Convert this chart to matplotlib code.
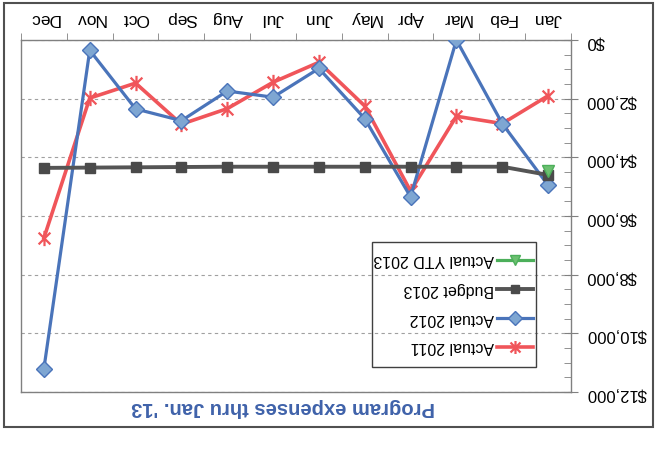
import numpy as np
import matplotlib
matplotlib.use('Agg')
import matplotlib.pyplot as plt
from matplotlib.path import Path
from matplotlib.patches import Rectangle
from matplotlib.lines import Line2D
from matplotlib.ticker import MultipleLocator, FuncFormatter

plt.rcParams['font.family'] = ['Liberation Sans', 'DejaVu Sans']

W, H = 662, 455

months = ['Jan', 'Feb', 'Mar', 'Apr', 'May', 'Jun',
          'Jul', 'Aug', 'Sep', 'Oct', 'Nov', 'Dec']
actual_2011 = [1900, 2850, 2600, 5150, 2250, 760, 1440, 2340, 2870, 1470, 1980, 6750]
actual_2012 = [4950, 2850, 0, 5350, 2680, 970, 1950, 1740, 2750, 2350, 350, 11200]
budget_2013 = [4600, 4320, 4320, 4320, 4320, 4320, 4320, 4320, 4330, 4340, 4350, 4360]
actual_ytd_2013 = [4450] + [np.nan] * 11

series_names = ['Actual 2011', 'Actual 2012', 'Budget 2013', 'Actual YTD 2013']

def px(x, y):
    # pixel position -> figure fraction
    return x / W, 1 - y / H

# asterisk marker: an x with a vertical bar
star = Path([(-1, -1), (1, 1), (-1, 1), (1, -1), (0, -1.3), (0, 1.3)],
            [Path.MOVETO, Path.LINETO, Path.MOVETO, Path.LINETO, Path.MOVETO, Path.LINETO])

styles = [
    dict(color='#F0555A', lw=2.6, marker=star, ms=11, mew=1.6, mec='#F0555A'),
    dict(color='#4A74BA', lw=2.3, marker='D', ms=8, mfc='#7EA6D2', mec='#4A74BA', mew=1),
    dict(color='#555555', lw=2.8, marker='s', ms=7.5, mfc='#4A4A4A', mec='#4A4A4A'),
    dict(color='#4CAF5A', lw=2.3, marker='v', ms=9, mfc='#6CC070', mec='#4CAF5A'),
]

fig = plt.figure(figsize=(W / 100, H / 100), dpi=100)
x0, y0 = px(21, 392)
x1, y1 = px(571, 40)
ax = fig.add_axes([x0, y0, x1 - x0, y1 - y0])

xs = np.arange(len(months))
for vals, st in zip([actual_2011, actual_2012, budget_2013, actual_ytd_2013], styles):
    ax.plot(xs, vals, **st, zorder=3)

# axes are drawn upside down: Jan on the right, $0 at the top
ax.set_xlim(11.5, -0.5)
ax.set_ylim(12000, 0)

ax.xaxis.tick_top()
ax.set_xticks(xs)
ax.set_xticklabels(months, rotation=180, fontsize=12.5)
ax.set_xticks(np.arange(-0.5, 12, 1), minor=True)
ax.tick_params(axis='x', which='major', length=0, pad=10)
ax.tick_params(axis='x', which='minor', length=5, direction='out', color='#808080')

ax.yaxis.tick_right()
ax.yaxis.set_major_locator(MultipleLocator(2000))
ax.yaxis.set_minor_locator(MultipleLocator(500))
ax.yaxis.set_major_formatter(FuncFormatter(lambda v, p: '${:,.0f}'.format(v)))
ax.tick_params(axis='y', which='major', direction='inout', length=10, pad=6,
               color='#808080', labelsize=12)
ax.tick_params(axis='y', which='minor', direction='in', length=5, color='#808080')
for lab in ax.get_yticklabels():
    lab.set_rotation(180)

ax.grid(axis='y', which='major', color='#A0A0A0', lw=0.8, linestyle=(0, (3, 3)))
ax.set_axisbelow(True)
for sp in ax.spines.values():
    sp.set_color('#808080')
    sp.set_linewidth(1)

# title under the plot, upside down
tx, ty = px(283, 408)
fig.text(tx, ty, "Program expenses thru Jan. '13", rotation=180, ha='center', va='center',
         fontsize=14.5, fontweight='bold', color='#3F62AA')

# legend box
lx0, ly0 = px(372, 367)
lx1, ly1 = px(536, 242)
fig.add_artist(Rectangle((lx0, ly0), lx1 - lx0, ly1 - ly0, transform=fig.transFigure,
                         fill=False, ec='#404040', lw=1))
rows = [347, 318, 289, 260]
for name, st, ry in zip(series_names, styles, rows):
    ax0, ay = px(497, ry)
    ax1, _ = px(533, ry)
    kw = dict(st)
    kw['ms'] = kw['ms'] * 0.85
    fig.add_artist(Line2D([ax0, ax1], [ay, ay], transform=fig.transFigure,
                          **{k: v for k, v in kw.items() if k != 'marker'}))
    fig.add_artist(Line2D([(ax0 + ax1) / 2], [ay], transform=fig.transFigure, ls='none',
                          **{k: v for k, v in kw.items() if k != 'lw'}))
    lx, _ = px(494, ry)
    fig.text(lx, ay, name, rotation=180, ha='right', va='center', fontsize=11.5, color='#000000')

# outer chart frame
fx0, fy0 = px(4, 427)
fx1, fy1 = px(653, 3)
fig.add_artist(Rectangle((fx0, fy0), fx1 - fx0, fy1 - fy0, transform=fig.transFigure,
                         fill=False, ec='#505050', lw=1.5))

fig.savefig('out.png', dpi=100)
